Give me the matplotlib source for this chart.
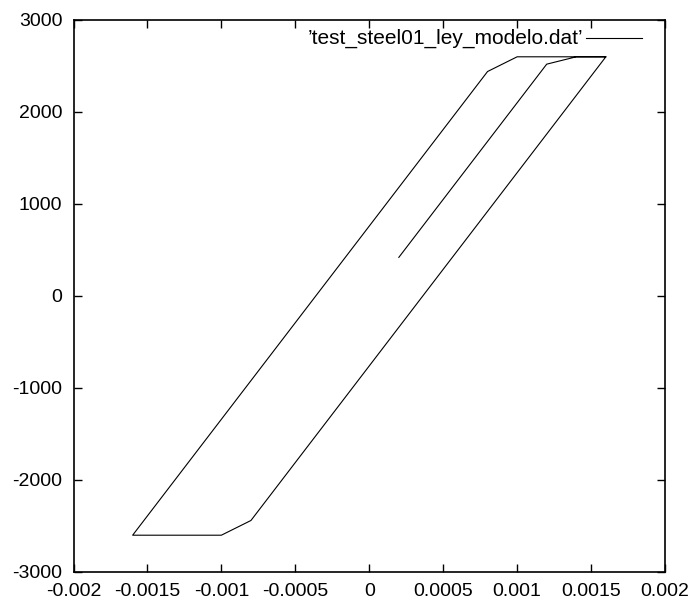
import matplotlib
matplotlib.use("Agg")
import matplotlib.pyplot as plt
from matplotlib.lines import Line2D

plt.rcParams['font.family'] = ['Liberation Sans', 'DejaVu Sans']
plt.rcParams['axes.unicode_minus'] = False

# strain / stress path
strain = [0.0002, 0.0012, 0.0014, 0.0016, -0.0008, -0.001, -0.0016, 0.0008, 0.001, 0.0016]
stress = [420, 2520, 2600, 2600, -2440, -2600, -2600, 2440, 2600, 2600]
x_ticks = [-0.002, -0.0015, -0.001, -0.0005, 0, 0.0005, 0.001, 0.0015, 0.002]
x_labels = ['-0.002', '-0.0015', '-0.001', '-0.0005', '0', '0.0005', '0.001', '0.0015', '0.002']
y_ticks = [-3000, -2000, -1000, 0, 1000, 2000, 3000]
legend_label = "\u2019test_steel01_ley_modelo.dat\u2019"

fig = plt.figure(figsize=(6.94, 6.0), dpi=100)
ax = fig.add_axes([73.5 / 694, 1 - 572 / 600, (665 - 73.5) / 694, (572 - 20) / 600])

ax.plot(strain, stress, color='black', linewidth=0.8)

ax.set_xlim(-0.002, 0.002)
ax.set_ylim(-3000, 3000)
ax.set_xticks(x_ticks)
ax.set_xticklabels(x_labels)
ax.set_yticks(y_ticks)
ax.tick_params(direction='in', length=6, width=1, top=True, right=True,
               labelsize=14, pad=8)
for s in ax.spines.values():
    s.set_linewidth(1.2)

# gnuplot-style key in the top right corner
ax.text(0.862, 0.966, legend_label, transform=ax.transAxes, ha='right', va='center',
        fontsize=15)
ax.add_line(Line2D([0.867, 0.961], [0.967, 0.967], transform=ax.transAxes,
                   color='black', linewidth=0.8))

fig.savefig('out.png', dpi=100)
